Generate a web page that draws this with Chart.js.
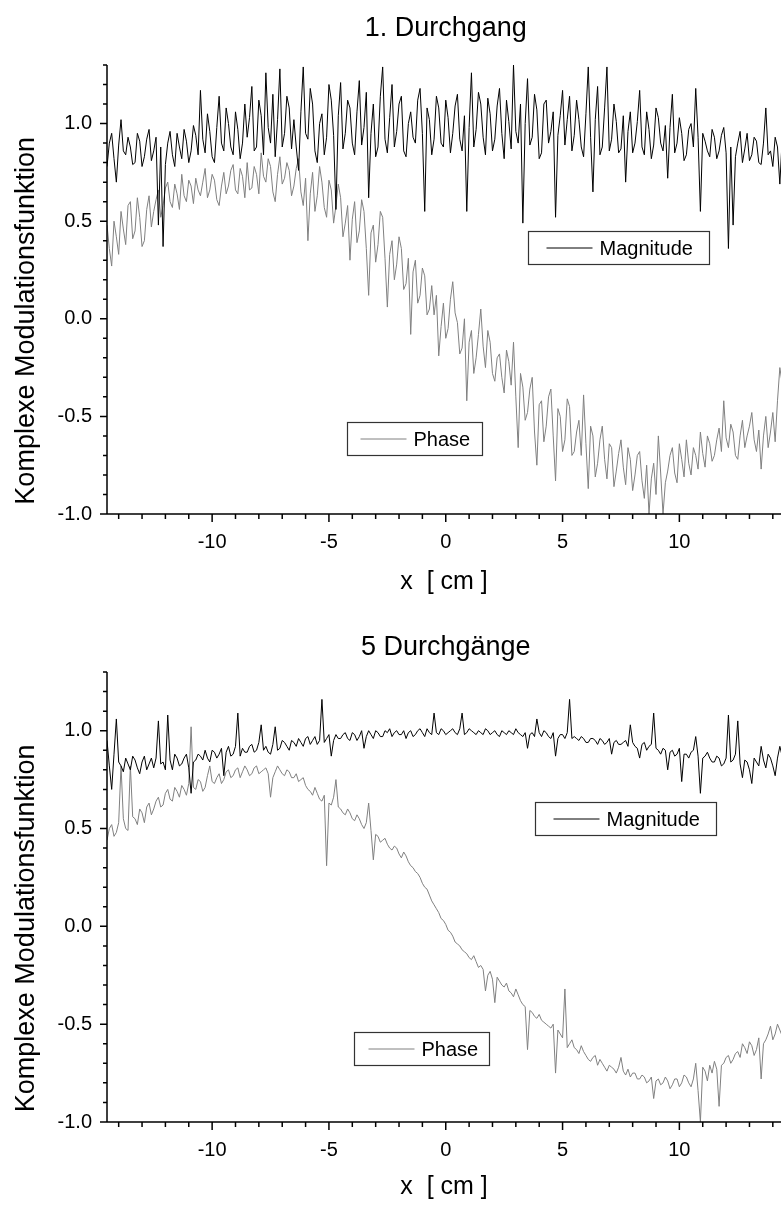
<!DOCTYPE html>
<html>
<head>
<meta charset="utf-8">
<script src="https://cdn.jsdelivr.net/npm/chart.js@4/dist/chart.umd.min.js"></script>
<style>
  html, body { margin: 0; padding: 0; background: #fff; }
  .panel { position: absolute; left: 0; width: 781px; height: 600px; }
  #top { top: 0; }
  #bottom { top: 605px; }
</style>
</head>
<body>
<div class="panel" id="top"><canvas id="chart1"></canvas></div>
<div class="panel" id="bottom"><canvas id="chart2"></canvas></div>
<script>
// sampling grid along x [cm]
var X_START = -14.5;
var X_STEP = 0.1;

// 1. Durchgang
var mag1 = [
  0.78,0.90, 0.95,0.82, 0.70,0.89, 1.02,0.86, 0.84,0.93, 0.88,0.79, 0.80,0.95, 0.91,0.78, 0.83,0.92, 0.97,0.81,
  0.86,0.93, 0.48,0.88, 0.37,0.79, 0.90,0.96, 0.84,0.78, 0.95,0.88, 0.82,0.97, 0.91,0.80, 0.86,0.99, 0.94,0.84,
  1.17,0.92, 0.85,1.05, 0.96,0.83, 0.80,0.98, 1.14,0.90, 0.86,1.08, 1.00,0.88, 0.84,1.06, 0.97,0.82, 0.90,1.10,
  0.93,1.03, 1.19,0.86, 0.88,1.12, 1.04,0.84, 1.26,0.98, 0.90,1.15, 0.83,1.02, 1.28,0.88, 0.95,1.14, 1.08,0.87,
  1.02,0.88, 0.76,1.06, 1.29,0.95, 0.92,1.18, 1.10,0.86, 0.80,1.00, 1.05,0.84, 0.93,1.20, 1.12,0.94, 0.56,1.04,
  1.21,0.87, 0.95,1.12, 1.08,0.90, 0.84,1.06, 1.22,0.89, 0.98,1.16, 0.62,0.95, 1.10,0.83, 0.88,1.14, 1.29,0.92,
  0.85,1.03, 1.20,0.88, 0.96,1.10, 1.14,0.86, 0.83,1.00, 1.06,0.93, 0.90,1.12, 1.18,0.95, 0.55,1.08, 1.02,0.84,
  0.92,1.14, 1.08,0.90, 0.88,1.12, 1.03,0.85, 0.95,1.09, 1.15,0.92, 0.86,1.04, 0.55,0.98, 1.26,0.88, 0.97,1.16,
  1.10,0.93, 0.84,1.13, 1.05,0.86, 0.92,1.09, 1.18,0.95, 0.82,1.12, 1.01,0.87, 1.30,0.96, 0.90,1.10, 0.49,1.00,
  1.23,0.89, 0.93,1.15, 1.07,0.82, 0.85,1.10, 1.12,0.90, 0.96,1.06, 0.52,0.94, 1.04,1.17, 0.89,1.02, 1.14,0.86,
  0.94,1.12, 1.02,0.88, 0.83,1.05, 1.29,0.93, 0.65,1.02, 1.19,0.84, 0.88,1.08, 1.29,0.86, 0.92,1.10, 1.01,0.85,
  0.87,1.04, 0.70,0.96, 1.06,0.85, 0.90,1.01, 1.17,0.88, 0.84,1.06, 0.97,0.82, 0.89,1.08, 1.03,0.90, 0.86,0.99,
  0.72,0.98, 1.15,0.85, 0.90,1.03, 0.95,0.81, 0.84,0.97, 1.00,0.88, 1.18,0.93, 0.55,0.95, 0.91,0.86, 0.83,0.97,
  0.93,0.82, 0.86,0.94, 0.98,0.85, 0.36,0.88, 0.48,0.83, 0.90,0.96, 0.80,0.87, 0.95,0.81, 0.84,0.93, 0.91,0.80,
  0.79,0.90, 1.08,0.84, 0.86,0.78, 0.93,0.88, 0.69,0.92, 0.85
];
var phase1 = [
  0.48,0.36, 0.27,0.50, 0.42,0.33, 0.55,0.46, 0.38,0.58, 0.60,0.41, 0.45,0.62, 0.52,0.37, 0.40,0.56, 0.63,0.47,
  0.55,0.61, 0.66,0.52, 0.58,0.67, 0.70,0.60, 0.57,0.69, 0.64,0.56, 0.74,0.63, 0.60,0.71, 0.68,0.59, 0.72,0.66,
  0.63,0.70, 0.77,0.62, 0.66,0.74, 0.71,0.61, 0.58,0.68, 0.75,0.64, 0.68,0.76, 0.79,0.66, 0.64,0.77, 0.73,0.62,
  0.80,0.66, 0.67,0.78, 0.74,0.64, 0.85,0.73, 0.70,0.82, 0.78,0.65, 0.60,0.74, 0.83,0.69, 0.72,0.80, 0.76,0.63,
  0.68,0.77, 0.82,0.65, 0.58,0.72, 0.40,0.64, 0.75,0.55, 0.63,0.78, 0.70,0.57, 0.52,0.71, 0.66,0.49, 0.58,0.69,
  0.62,0.42, 0.49,0.58, 0.30,0.51, 0.60,0.39, 0.45,0.61, 0.55,0.36, 0.12,0.44, 0.48,0.29, 0.38,0.55, 0.52,0.31,
  0.06,0.33, 0.40,0.20, 0.28,0.42, 0.36,0.15, 0.18,0.31, -0.08,0.24, 0.30,0.08, 0.12,0.26, 0.22,0.02, 0.05,0.17,
  0.02,0.12, -0.19,-0.04, 0.08,-0.10, -0.05,0.10, 0.19,0.03, -0.02,-0.18, -0.15,0.00, -0.42,-0.12, -0.06,-0.28, -0.20,-0.08,
  0.05,-0.14, -0.25,-0.06, -0.12,-0.28, -0.32,-0.20, -0.18,-0.30, -0.38,-0.16, -0.22,-0.34, -0.12,-0.40, -0.66,-0.28, -0.35,-0.52,
  -0.48,-0.36, -0.30,-0.58, -0.75,-0.44, -0.42,-0.63, -0.55,-0.40, -0.36,-0.60, -0.83,-0.46, -0.50,-0.68, -0.62,-0.41, -0.45,-0.70,
  -0.68,-0.58, -0.52,-0.70, -0.39,-0.64, -0.87,-0.55, -0.60,-0.81, -0.74,-0.62, -0.55,-0.72, -0.82,-0.64, -0.66,-0.86, -0.78,-0.69,
  -0.62,-0.76, -0.85,-0.66, -0.72,-0.88, -0.80,-0.70, -0.68,-0.83, -0.92,-0.75, -1.00,-0.82, -0.74,-0.90, -0.60,-0.79, -1.00,-0.84,
  -0.78,-0.70, -0.66,-0.79, -0.84,-0.64, -0.72,-0.81, -0.62,-0.74, -0.80,-0.66, -0.70,-0.77, -0.58,-0.69, -0.76,-0.60, -0.64,-0.73,
  -0.70,-0.62, -0.56,-0.68, -0.42,-0.61, -0.66,-0.54, -0.58,-0.70, -0.72,-0.60, -0.52,-0.66, -0.60,-0.55, -0.48,-0.62, -0.68,-0.57,
  -0.77,-0.60, -0.50,-0.66, -0.58,-0.48, -0.63,-0.42, -0.25,-0.33, -0.40
];

// 5 Durchgänge
var mag2 = [
  0.95,0.82, 0.70,0.88, 1.06,0.84, 0.82,0.79, 0.86,0.83, 0.80,0.87, 0.85,0.81, 0.78,0.84, 0.87,0.80, 0.83,0.86,
  0.81,0.86, 1.05,0.83, 0.84,0.80, 1.08,0.85, 0.80,0.88, 0.86,0.82, 0.83,0.86, 0.88,0.81, 0.68,0.84, 0.85,0.88,
  0.87,0.85, 0.90,0.86, 0.84,0.90, 0.89,0.86, 0.88,0.91, 0.77,0.89, 0.92,0.87, 0.88,0.92, 1.09,0.87, 0.91,0.89,
  0.89,0.92, 0.93,0.89, 0.90,0.94, 1.03,0.90, 0.92,0.89, 0.88,0.93, 1.02,0.90, 0.91,0.95, 0.94,0.92, 0.90,0.95,
  0.94,0.92, 0.96,0.94, 0.92,0.96, 0.97,0.93, 0.95,0.97, 0.93,0.95, 1.16,0.94, 0.96,0.98, 0.87,0.95, 0.98,0.96,
  0.96,0.98, 0.99,0.96, 0.95,0.99, 0.98,0.95, 0.97,1.00, 0.91,0.97, 1.00,0.98, 0.96,1.00, 0.99,0.97, 0.97,1.00,
  0.99,1.01, 0.97,0.99, 1.00,0.98, 0.98,1.00, 0.96,0.99, 1.00,0.97, 0.98,1.00, 1.01,0.99, 0.97,1.01, 0.99,0.98,
  1.09,0.99, 0.98,1.01, 1.00,0.98, 0.99,1.00, 1.01,0.99, 0.98,1.01, 1.09,0.98, 0.99,1.01, 1.00,0.99, 0.98,1.00,
  0.99,0.98, 1.01,1.00, 0.98,0.99, 1.00,0.98, 0.97,1.00, 0.99,0.98, 1.00,0.99, 0.98,1.01, 0.99,0.98, 0.97,0.99,
  0.91,0.98, 0.99,0.97, 1.06,0.99, 0.97,1.00, 0.99,0.97, 0.96,0.99, 0.87,0.96, 0.98,0.98, 0.96,0.99, 1.16,0.96,
  0.97,0.96, 0.95,0.97, 0.96,0.94, 0.94,0.96, 0.96,0.95, 0.93,0.96, 0.95,0.93, 0.94,0.96, 0.88,0.94, 0.95,0.93,
  0.93,0.94, 0.95,0.92, 1.03,0.94, 0.92,0.91, 0.86,0.93, 0.94,0.90, 0.92,0.93, 1.09,0.91, 0.90,0.88, 0.91,0.90,
  0.80,0.89, 0.90,0.87, 0.88,0.91, 0.74,0.88, 0.88,0.86, 0.89,0.90, 0.97,0.87, 0.68,0.86, 0.87,0.89, 0.86,0.84,
  0.84,0.87, 0.86,0.82, 0.83,0.86, 1.08,0.84, 0.85,0.88, 1.05,0.83, 0.76,0.85, 0.84,0.80, 0.73,0.86, 0.84,0.82,
  0.92,0.85, 0.81,0.88, 0.86,0.82, 0.77,0.86, 0.92,0.87, 0.85
];
var phase2 = [
  0.44,0.50, 0.52,0.46, 0.48,0.53, 0.82,0.55, 0.50,0.49, 0.82,0.56, 0.55,0.52, 0.60,0.58, 0.53,0.61, 0.63,0.57,
  0.60,0.64, 0.66,0.61, 0.62,0.68, 0.70,0.65, 0.64,0.71, 0.69,0.66, 0.72,0.70, 0.67,0.73, 1.02,0.71, 0.70,0.75,
  0.74,0.69, 0.71,0.77, 0.82,0.74, 0.73,0.76, 0.78,0.73, 0.75,0.79, 0.80,0.76, 0.77,0.80, 0.81,0.76, 0.79,0.82,
  0.80,0.77, 0.78,0.81, 0.82,0.78, 0.79,0.80, 0.81,0.78, 0.66,0.76, 0.79,0.82, 0.80,0.78, 0.77,0.80, 0.79,0.76,
  0.76,0.78, 0.74,0.75, 0.76,0.72, 0.70,0.69, 0.67,0.71, 0.68,0.65, 0.64,0.67, 0.31,0.63, 0.62,0.66, 0.75,0.61,
  0.60,0.58, 0.57,0.60, 0.58,0.55, 0.54,0.57, 0.55,0.52, 0.50,0.53, 0.63,0.49, 0.34,0.47, 0.46,0.43, 0.44,0.45,
  0.42,0.40, 0.39,0.41, 0.40,0.37, 0.35,0.38, 0.36,0.33, 0.31,0.30, 0.28,0.27, 0.25,0.22, 0.20,0.19, 0.16,0.13,
  0.11,0.09, 0.07,0.04, 0.03,0.01, -0.02,-0.03, -0.05,-0.08, -0.09,-0.10, -0.12,-0.13, -0.14,-0.16, -0.17,-0.15, -0.18,-0.21,
  -0.20,-0.22, -0.33,-0.25, -0.23,-0.27, -0.39,-0.26, -0.28,-0.30, -0.31,-0.29, -0.33,-0.34, -0.36,-0.32, -0.35,-0.38, -0.40,-0.41,
  -0.63,-0.43, -0.44,-0.46, -0.47,-0.45, -0.48,-0.49, -0.50,-0.51, -0.52,-0.50, -0.75,-0.53, -0.55,-0.57, -0.32,-0.62, -0.60,-0.58,
  -0.62,-0.63, -0.65,-0.61, -0.64,-0.66, -0.68,-0.69, -0.67,-0.66, -0.71,-0.68, -0.70,-0.72, -0.74,-0.71, -0.72,-0.73, -0.75,-0.72,
  -0.67,-0.74, -0.76,-0.73, -0.77,-0.75, -0.75,-0.78, -0.78,-0.76, -0.77,-0.80, -0.79,-0.77, -0.88,-0.79, -0.78,-0.81, -0.80,-0.77,
  -0.79,-0.83, -0.81,-0.78, -0.78,-0.82, -0.80,-0.76, -0.77,-0.80, -0.82,-0.78, -0.70,-0.84, -1.00,-0.72, -0.74,-0.79, -0.71,-0.75,
  -0.69,-0.73, -0.92,-0.71, -0.70,-0.67, -0.66,-0.70, -0.68,-0.65, -0.64,-0.67, -0.60,-0.62, -0.65,-0.59, -0.61,-0.66, -0.63,-0.57,
  -0.78,-0.60, -0.58,-0.55, -0.51,-0.58, -0.55,-0.50, -0.53,-0.56, -0.52
];

// axis labels
var xTickValues = [-10, -5, 0, 5, 10];
var yTickValues = [-1.0, -0.5, 0.0, 0.5, 1.0];
var yTitle = 'Komplexe Modulationsfunktion';
var xTitle = 'x  [ cm ]';

var FONT = '"Liberation Sans", Arial, Helvetica, sans-serif';

function points(vals) {
  return vals.map(function (v, i) { return { x: X_START + i * X_STEP, y: v }; });
}

// Origin style frame: left + bottom axis, ticks pointing outwards, minor ticks
var frame = {
  id: 'frame',
  afterDraw: function (chart) {
    var ctx = chart.ctx, a = chart.chartArea, x = chart.scales.x, y = chart.scales.y;
    ctx.save();
    ctx.strokeStyle = '#000';
    ctx.lineWidth = 1.5;
    ctx.beginPath();
    ctx.moveTo(a.left, a.top);
    ctx.lineTo(a.left, a.bottom);
    ctx.lineTo(a.right, a.bottom);
    for (var v = -14; v <= 14; v++) {
      var px = x.getPixelForValue(v);
      if (px > a.right) continue;
      var len = v % 5 === 0 ? 8 : 5;
      ctx.moveTo(px, a.bottom);
      ctx.lineTo(px, a.bottom + len);
    }
    for (var k = -10; k <= 13; k++) {
      var py = y.getPixelForValue(k / 10);
      var l = k % 5 === 0 ? 7 : 4;
      ctx.moveTo(a.left, py);
      ctx.lineTo(a.left - l, py);
    }
    ctx.stroke();

    // y axis title, centred on the zero line
    ctx.fillStyle = '#000';
    ctx.font = '27px ' + FONT;
    ctx.textAlign = 'center';
    ctx.textBaseline = 'middle';
    ctx.translate(27, y.getPixelForValue(0) + 2);
    ctx.rotate(-Math.PI / 2);
    ctx.fillText(yTitle, 0, 0);
    ctx.restore();
  }
};

// panel heading, centred over x = 0
var heading = {
  id: 'heading',
  afterDraw: function (chart, args, opts) {
    var ctx = chart.ctx;
    ctx.save();
    ctx.font = '27px ' + FONT;
    ctx.fillStyle = '#000';
    ctx.textAlign = 'center';
    ctx.textBaseline = 'alphabetic';
    ctx.fillText(opts.text, chart.scales.x.getPixelForValue(0), opts.baseline);
    ctx.restore();
  }
};

// boxed legend entries placed inside the plot
var boxLegend = {
  id: 'boxLegend',
  afterDraw: function (chart, args, opts) {
    var ctx = chart.ctx, x = chart.scales.x, y = chart.scales.y;
    ctx.save();
    ctx.font = '20px ' + FONT;
    ctx.textBaseline = 'middle';
    opts.items.forEach(function (it) {
      var ds = chart.data.datasets[it.dataset];
      var left = Math.round(x.getPixelForValue(it.x)) + 0.5;
      var top = Math.round(y.getPixelForValue(it.y)) + 0.5;
      var w = it.w, h = 33;
      ctx.fillStyle = '#fff';
      ctx.fillRect(left, top, w, h);
      ctx.strokeStyle = '#333';
      ctx.lineWidth = 1.2;
      ctx.strokeRect(left, top, w, h);
      ctx.strokeStyle = ds.borderColor;
      ctx.lineWidth = 1;
      ctx.beginPath();
      ctx.moveTo(left + it.pad, top + h / 2);
      ctx.lineTo(left + it.pad + 46, top + h / 2);
      ctx.stroke();
      ctx.fillStyle = '#000';
      ctx.fillText(ds.label, left + it.pad + 53, top + h / 2 + 1);
    });
    ctx.restore();
  }
};

function makeChart(id, mag, phase, title, pad, axisH, legendItems) {
  return new Chart(document.getElementById(id), {
    type: 'line',
    data: {
      datasets: [{
        label: 'Magnitude',
        data: points(mag),
        borderColor: '#000',
        borderWidth: 1,
        pointRadius: 0,
        tension: 0
      }, {
        label: 'Phase',
        data: points(phase),
        borderColor: '#808080',
        borderWidth: 1,
        pointRadius: 0,
        tension: 0
      }]
    },
    options: {
      responsive: true,
      maintainAspectRatio: false,
      animation: false,
      events: [],
      layout: { padding: { top: pad, left: 0, right: 0, bottom: 0 } },
      plugins: {
        legend: { display: false },
        tooltip: { enabled: false },
        heading: title,
        boxLegend: { items: legendItems }
      },
      scales: {
        x: {
          type: 'linear',
          min: X_START,
          max: 14.35,
          grid: { display: false, drawTicks: false },
          border: { display: false },
          afterBuildTicks: function (s) { s.ticks = xTickValues.map(function (v) { return { value: v }; }); },
          afterFit: function (s) { s.height = axisH; },
          ticks: {
            color: '#000',
            padding: 16,
            maxRotation: 0,
            font: { family: FONT, size: 20 },
            callback: function (v) { return String(v); }
          },
          title: {
            display: true,
            text: xTitle,
            color: '#000',
            font: { family: FONT, size: 25 },
            padding: { top: 0, bottom: 3 }
          }
        },
        y: {
          min: -1.0,
          max: 1.3,
          grid: { display: false, drawTicks: false },
          border: { display: false },
          afterBuildTicks: function (s) { s.ticks = yTickValues.map(function (v) { return { value: v }; }); },
          afterFit: function (s) { s.width = 107; },
          ticks: {
            color: '#000',
            padding: 15,
            font: { family: FONT, size: 20 },
            callback: function (v) { return v.toFixed(1); }
          }
        }
      }
    },
    plugins: [frame, heading, boxLegend]
  });
}

makeChart('chart1', mag1, phase1,
  { text: '1. Durchgang', baseline: 36 }, 65, 86,
  [{ dataset: 0, x: 3.5, y: 0.451, w: 181, pad: 18 },
   { dataset: 1, x: -4.23, y: -0.528, w: 135, pad: 13 }]);

makeChart('chart2', mag2, phase2,
  { text: '5 Durchgänge', baseline: 50 }, 67, 83,
  [{ dataset: 0, x: 3.8, y: 0.633, w: 181, pad: 18 },
   { dataset: 1, x: -3.93, y: -0.541, w: 135, pad: 14 }]);
</script>
</body>
</html>
